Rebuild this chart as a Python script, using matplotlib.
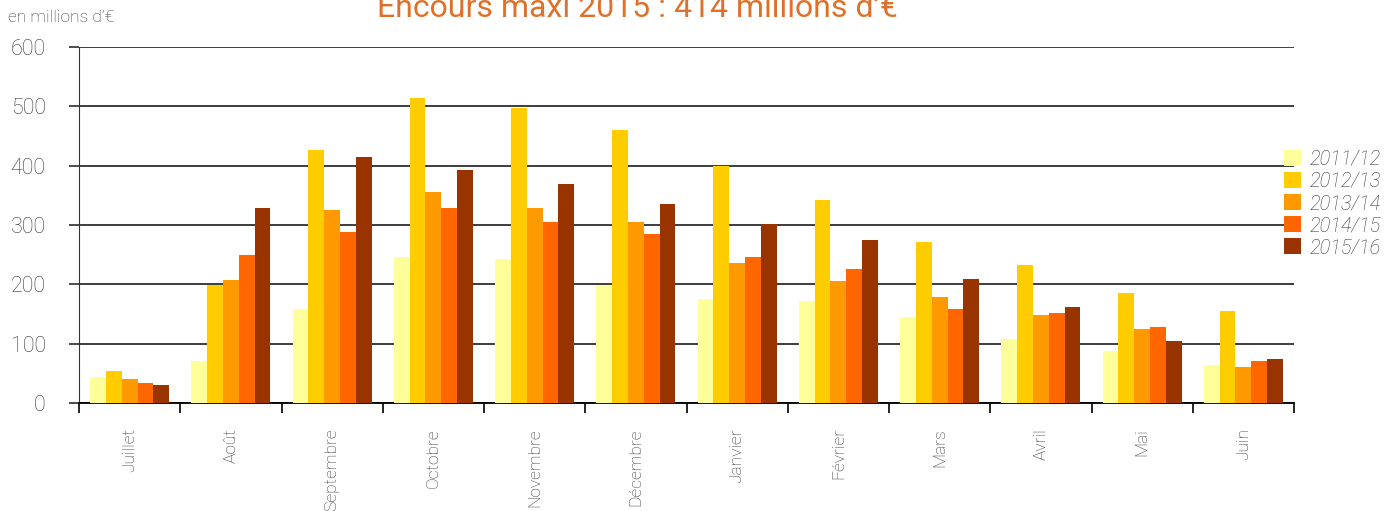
import matplotlib
matplotlib.use("Agg")
import matplotlib.pyplot as plt
import numpy as np
from matplotlib.patches import Patch

months = ["Juillet", "Août", "Septembre", "Octobre", "Novembre", "Décembre",
          "Janvier", "Février", "Mars", "Avril", "Mai", "Juin"]
seasons = ["2011/12", "2012/13", "2013/14", "2014/15", "2015/16"]

s2011 = [44, 71, 158, 246, 243, 199, 175, 172, 145, 108, 88, 64]
s2012 = [54, 199, 427, 514, 497, 460, 400, 342, 271, 233, 186, 155]
s2013 = [40, 207, 325, 356, 329, 305, 236, 206, 179, 148, 125, 61]
s2014 = [34, 250, 288, 329, 305, 285, 246, 226, 158, 152, 128, 71]
s2015 = [30, 329, 414, 393, 369, 336, 302, 275, 209, 162, 105, 74]
series = [s2011, s2012, s2013, s2014, s2015]
colors = ["#FFFF99", "#FFCC00", "#FF9900", "#FF6600", "#993300"]

plt.rcParams['font.family'] = ['Roboto', 'DejaVu Sans']
TXT = "#383838"

fig = plt.figure(figsize=(13.97, 5.11), dpi=100)
ax = fig.add_axes([79/1397, 1-403/511, (1294-79)/1397, (403-47)/511])

x = np.arange(len(months))
bw = 0.156
for i, (vals, c) in enumerate(zip(series, colors)):
    ax.bar(x + (i - 2) * bw, vals, width=bw, color=c, zorder=3)

ax.set_xlim(-0.5, len(months) - 0.5)
ax.set_ylim(0, 600)
ax.set_yticks(range(0, 601, 100))
ax.yaxis.grid(True, color="#2e2e2e", lw=1.3, zorder=0)
ax.set_axisbelow(True)

ax.set_xticks(x)
ax.set_xticklabels(months, rotation=90, fontsize=12.5, color=TXT, fontweight='light', va='top')
ax.tick_params(axis='x', which='major', length=0, pad=18)
ax.set_xticks(np.arange(-0.5, len(months), 1.0), minor=True)
ax.tick_params(axis='x', which='minor', length=7.5, width=1.2, color='black')

ax.tick_params(axis='y', length=7.5, width=1.2, color='#2e2e2e', pad=16.5,
               labelsize=15.5, labelcolor=TXT)
for lab in ax.get_yticklabels():
    lab.set_fontweight('light')

for s in ['top', 'right']:
    ax.spines[s].set_visible(False)
ax.spines['left'].set_color('#333333')
ax.spines['bottom'].set_color('black')
ax.spines['bottom'].set_linewidth(1.3)

fig.text(8/1397, 1-18/511, "en millions d’€", fontsize=12.5, color=TXT,
         fontweight='light', va='center', ha='left')
fig.text(637/1397, 1-17/511, "Encours maxi 2015 : 414 millions d’€", fontsize=23,
         color="#E07028", fontweight='normal', ha='center', va='baseline')

handles = [Patch(facecolor=c, edgecolor='none') for c in colors]
leg = fig.legend(handles, seasons, loc='center left',
                 bbox_to_anchor=(1284/1397, 1-203.5/511), frameon=False,
                 fontsize=14.5, handlelength=0.85, handleheight=0.85,
                 handletextpad=0.4, labelspacing=0.15, borderpad=0, borderaxespad=0)
for t in leg.get_texts():
    t.set_color(TXT)
    t.set_fontstyle('italic')
    t.set_fontweight('light')

fig.savefig("out.png", dpi=100)
